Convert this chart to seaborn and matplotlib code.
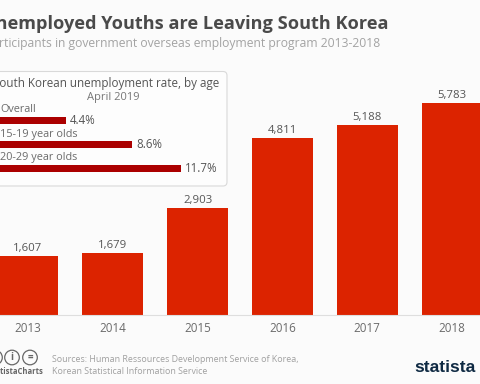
import matplotlib
matplotlib.use("Agg")
import matplotlib.pyplot as plt
from matplotlib.patches import FancyBboxPatch, Circle
import pandas as pd
import seaborn as sns

years = ["2013", "2014", "2015", "2016", "2017", "2018"]
participants = [1607, 1679, 2903, 4811, 5188, 5783]
age_groups = ["Overall", "15-19 year olds", "20-29 year olds"]
rates = [4.4, 8.6, 11.7]

W, H = 480, 384
BG = "#fbfbfb"

sns.set_theme(style="white")
plt.rcParams["font.family"] = ["Open Sans", "DejaVu Sans"]

fig = plt.figure(figsize=(4.8, 3.84), dpi=100, facecolor=BG)


def box(x0, y_top, x1, y_bottom):
    # pixel box to figure fraction
    return [x0 / W, 1 - y_bottom / H, (x1 - x0) / W, (y_bottom - y_top) / H]


# main bars
ax = fig.add_axes(box(-14.5, 60, 494.5, 314.5))
ax.set_facecolor("none")
df = pd.DataFrame({"year": years, "n": participants})
sns.barplot(data=df, x="year", y="n", color="#dc2300", saturation=1, width=0.715, linewidth=0, ax=ax)
ax.set_xlim(-0.5, 5.5)
ax.set_ylim(0, 254.5 / 0.0366)
ax.set_xlabel("")
ax.set_ylabel("")
ax.set_yticks([])
ax.tick_params(axis="x", length=0, pad=5.5, labelsize=8.4, labelcolor="#6b6b6b")
sns.despine(ax=ax, left=True)
ax.spines["bottom"].set_color("#dedede")
ax.spines["bottom"].set_linewidth(0.8)
for i, v in enumerate(participants):
    ax.annotate(f"{v:,}", (i, v), xytext=(0, 1.5), textcoords="offset points",
                ha="center", va="bottom", fontsize=8.2, color="#555555")

# inset box
bg = fig.add_axes([0, 0, 1, 1], zorder=2)
bg.set_axis_off()
bg.set_xlim(0, W)
bg.set_ylim(H, 0)
bg.add_patch(FancyBboxPatch((-20, 71.5), 247, 114.5, boxstyle="round,pad=0,rounding_size=4",
                            fc="#fdfdfd", ec="#d9d9d9", lw=0.8))

# inset bars
ax2 = fig.add_axes(box(-3.3, 108.5, 223, 180.5), zorder=3)
ax2.set_facecolor("none")
sns.barplot(x=rates, y=age_groups, orient="h", color="#ab0000", saturation=1, width=0.29, linewidth=0, ax=ax2)
ax2.set_xlim(0, 226.3 / 15.75)
ax2.set_ylim(2.5, -0.5)
ax2.set_axis_off()
for i, (g, r) in enumerate(zip(age_groups, rates)):
    ax2.annotate(f"{r}%", (r, i), xytext=(3, 0), textcoords="offset points",
                 ha="left", va="center", fontsize=8.3, color="#555555")
    ax2.annotate(g, (0, i), xytext=(2.5, 3.6), textcoords="offset points",
                 ha="left", va="bottom", fontsize=7.8, color="#6b6b6b")

fig.text(219.5 / W, 1 - 83.5 / H, "South Korean unemployment rate, by age", ha="right", va="center",
         fontsize=8.4, color="#555555", zorder=5)
fig.text(113 / W, 1 - 97.5 / H, "April 2019", ha="center", va="center",
         fontsize=8, color="#777777", zorder=5)

# titles
fig.text(388 / W, 1 - 24 / H, "Unemployed Youths are Leaving South Korea", ha="right", va="center",
         fontsize=13.1, fontweight="bold", color="#4a4a4a")
fig.text(380 / W, 1 - 43.5 / H, "Participants in government overseas employment program 2013-2018",
         ha="right", va="center", fontsize=8.7, color="#a3a3a3")

# footer
for cx, s in [(-5, "c"), (12, "i"), (30, "=")]:
    bg.add_patch(Circle((cx, 357.5), 7.3, fc="none", ec="#666666", lw=0.9))
    bg.text(cx, 357.5, s, ha="center", va="center", fontsize=7, fontweight="bold", color="#666666")
fig.text(43 / W, 1 - 371.5 / H, "@StatistaCharts", ha="right", va="center",
         fontsize=5.5, fontweight="bold", color="#666666")
fig.text(52 / W, 1 - 360 / H, "Sources: Human Ressources Development Service of Korea,", ha="left", va="center",
         fontsize=6.4, color="#a0a0a0")
fig.text(52 / W, 1 - 371 / H, "Korean Statistical Information Service", ha="left", va="center",
         fontsize=6.4, color="#a0a0a0")
fig.text(476 / W, 1 - 367.5 / H, "statista", ha="right", va="center", fontsize=12.5, fontweight="bold",
         family="Liberation Sans", color="#0f2a43")

fig.savefig("out.png", dpi=100, facecolor=BG)
